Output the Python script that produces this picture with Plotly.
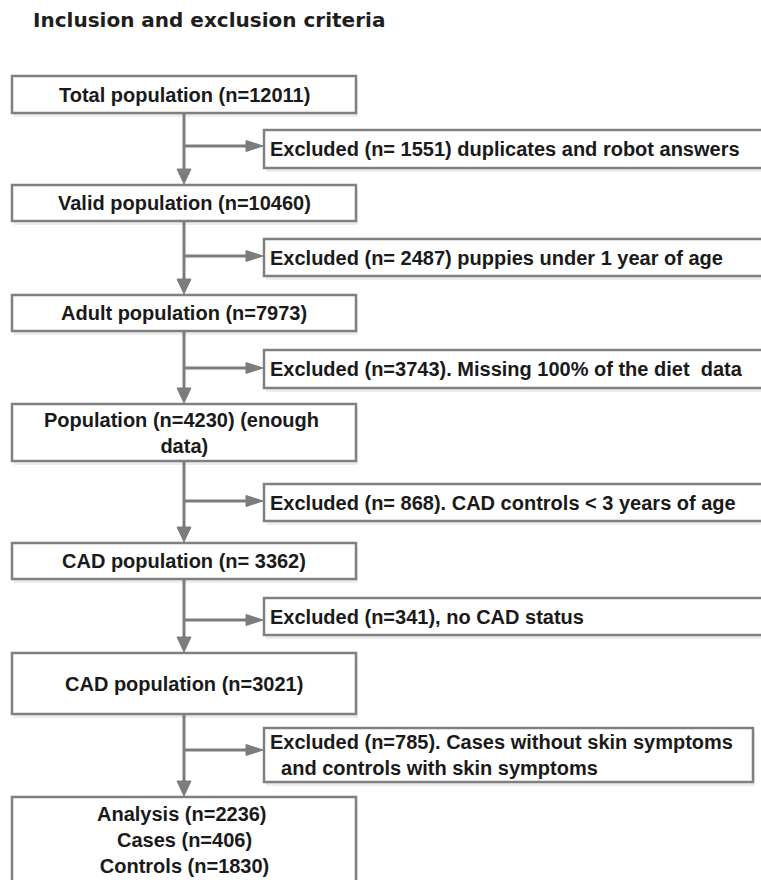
import plotly.graph_objects as go

# ---- data (flowchart content) ----
title_text = "Inclusion and exclusion criteria"
main_labels = [
    "Total population (n=12011)",
    "Valid population (n=10460)",
    "Adult population (n=7973)",
    "Population (n=4230) (enough\u00a0<br>data)",
    "CAD population (n= 3362)",
    "CAD population (n=3021)",
    "Analysis (n=2236)\u00a0<br>Cases (n=406)<br>Controls (n=1830)",
]
excl_labels = [
    "Excluded (n= 1551) duplicates and robot answers",
    "Excluded (n= 2487) puppies under 1 year of age",
    "Excluded (n=3743). Missing 100% of the diet\u00a0 data",
    "Excluded (n= 868). CAD controls < 3 years of age",
    "Excluded (n=341), no CAD status",
    "Excluded (n=785). Cases without skin symptoms<br>\u00a0\u00a0and controls with skin symptoms",
]

# ---- layout geometry (pixels, y downward) ----
W, H = 761, 880
main_x0, main_x1 = 12, 356
main_top = [76, 185, 295, 404, 543, 653, 797]
main_bot = [113, 221, 331, 461, 579, 714, 895]
excl_x0 = 264
excl_x1 = [766, 766, 766, 766, 766, 753]
excl_top = [130, 239, 350, 484, 598, 728]
excl_bot = [168, 276, 388, 521, 635, 782]
branch_y = [146, 256, 368, 501, 620, 750]

LINE = "#7c7c7c"
BORDER = "#808080"
SHADOW = "#ededed"
TXT = "#1a1a1a"
FONT = "Liberation Sans, Arial, sans-serif"
FS = 20

cx = (main_x0 + main_x1) / 2
shapes = []
annotations = []


def rect(x0, y0, x1, y1):
    shapes.append(dict(type="rect", xref="x", yref="y", x0=x0 + 2, x1=x1 + 2, y0=y0 + 4, y1=y1 + 4,
                       line=dict(width=0), fillcolor=SHADOW, layer="below"))
    shapes.append(dict(type="rect", xref="x", yref="y", x0=x0, x1=x1, y0=y0, y1=y1,
                       line=dict(color=BORDER, width=2.5), fillcolor="white", layer="below"))


for t, b in zip(main_top, main_bot):
    rect(main_x0, t, main_x1, b)
for x1, t, b in zip(excl_x1, excl_top, excl_bot):
    rect(excl_x0, t, x1, b)

# connectors
for i in range(len(main_top) - 1):
    y0 = main_bot[i]
    y1 = main_top[i + 1]
    shapes.append(dict(type="line", xref="x", yref="y", x0=cx, x1=cx, y0=y0, y1=y1 - 12,
                       line=dict(color=LINE, width=3)))
    shapes.append(dict(type="path", xref="x", yref="y",
                       path=f"M {cx-7},{y1-16} L {cx+7},{y1-16} L {cx},{y1-1} Z",
                       fillcolor=LINE, line=dict(color=LINE, width=1)))
    by = branch_y[i]
    shapes.append(dict(type="line", xref="x", yref="y", x0=cx, x1=excl_x0 - 14, y0=by, y1=by,
                       line=dict(color=LINE, width=3)))
    shapes.append(dict(type="path", xref="x", yref="y",
                       path=f"M {excl_x0-18},{by-5.5} L {excl_x0-18},{by+5.5} L {excl_x0-1},{by} Z",
                       fillcolor=LINE, line=dict(color=LINE, width=1)))

# texts
for lab, t, b in zip(main_labels, main_top, main_bot):
    yc = (t + b) / 2 if b <= H else 840
    annotations.append(dict(x=cx, y=yc, xref="x", yref="y", text=f"<b>{lab}</b>", showarrow=False,
                            xanchor="center", yanchor="middle", align="center",
                            font=dict(family=FONT, size=FS, color=TXT)))
for lab, t, b in zip(excl_labels, excl_top, excl_bot):
    annotations.append(dict(x=excl_x0 + 4, y=(t + b) / 2, xref="x", yref="y", text=f"<b>{lab}</b>",
                            showarrow=False, xanchor="left", yanchor="middle", align="left",
                            font=dict(family=FONT, size=FS, color=TXT)))

annotations.append(dict(x=31, y=20, xref="x", yref="y", text=f"<b>{title_text}</b>", showarrow=False,
                        xanchor="left", yanchor="middle",
                        font=dict(family="DejaVu Sans, sans-serif", size=20, color="#1e1e1e")))

fig = go.Figure()
fig.update_layout(
    width=W, height=H, margin=dict(l=0, r=0, t=0, b=0),
    paper_bgcolor="white", plot_bgcolor="white",
    xaxis=dict(range=[0, W], visible=False, fixedrange=True),
    yaxis=dict(range=[H, 0], visible=False, fixedrange=True),
    shapes=shapes, annotations=annotations, showlegend=False,
)
fig.write_html("out.html", config={"displayModeBar": False},
               post_script="document.body.style.margin='0';document.body.style.overflow='hidden';")
